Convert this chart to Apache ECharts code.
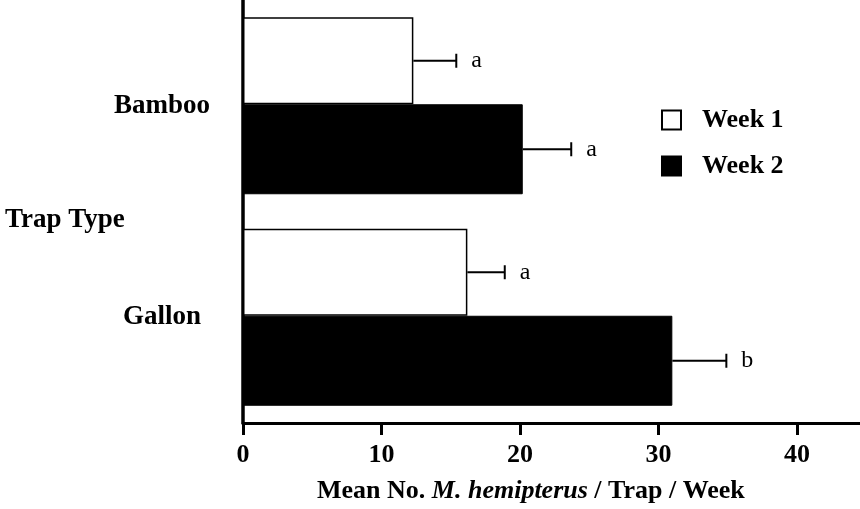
<!DOCTYPE html>
<html>
<head>
<meta charset="utf-8">
<script src="https://cdn.jsdelivr.net/npm/echarts@6/dist/echarts.min.js"></script>
<style>
html,body{margin:0;padding:0;background:#fff;}
#chart{width:860px;height:509px;}
</style>
</head>
<body>
<div id="chart"></div>
<script>
// ---- data ----
const categories = ['Bamboo', 'Gallon'];
const seriesNames = ['Week 1', 'Week 2'];
const week1 = [12.3, 16.2];
const week2 = [20.2, 31.0];
const week1SE = [3.1, 2.7];
const week2SE = [3.5, 3.9];
const week1Sig = ['a', 'a'];
const week2Sig = ['a', 'b'];
const xMin = 0, xMax = 44.55, xInterval = 10;
const yTitle = 'Trap Type';
const xTitleParts = ['Mean No. ', 'M. hemipterus', ' / Trap / Week'];

// ---- style ----
const SERIF = '"Liberation Serif", "Times New Roman", serif';
const W1 = 87, W2 = 90;
const OFF1 = -(W1 + W2) / 2 + W1 / 2;      // centre offset of week 1 bar
const OFF2 = -(W1 + W2) / 2 + W1 + W2 / 2; // centre offset of week 2 bar

const chart = echarts.init(document.getElementById('chart'));

function errSeries(name, values, se, sig, off) {
  return {
    type: 'custom',
    name: name,
    z: 5,
    encode: { x: 0, y: 1 },
    data: categories.map((c, i) => [values[i], i, se[i]]),
    renderItem: function (params, api) {
      const v = api.value(0), ci = api.value(1), e = api.value(2);
      const p0 = api.coord([v, ci]);
      const p1 = api.coord([v + e, ci]);
      const y = p0[1] + off;
      const capH = 7;
      return {
        type: 'group',
        children: [
          { type: 'line', shape: { x1: p0[0], y1: y, x2: p1[0], y2: y }, style: { stroke: '#000', lineWidth: 2 } },
          { type: 'line', shape: { x1: p1[0], y1: y - capH, x2: p1[0], y2: y + capH }, style: { stroke: '#000', lineWidth: 2 } },
          { type: 'text', x: p1[0] + 15, y: y, style: { text: sig[params.dataIndex], fill: '#000', font: '24px ' + SERIF, textAlign: 'left', textVerticalAlign: 'middle' } }
        ]
      };
    }
  };
}

const option = {
  backgroundColor: '#fff',
  animation: false,
  grid: { left: 243, right: 0, top: -3, bottom: 86, containLabel: false },
  legend: {
    data: seriesNames,
    orient: 'vertical',
    left: 661,
    top: 107,
    padding: 0,
    icon: 'rect',
    itemWidth: 19,
    itemHeight: 19,
    itemGap: 20,
    textStyle: { fontFamily: SERIF, fontWeight: 'bold', fontSize: 26, color: '#000', padding: [0, 0, 0, 16] },
    selectedMode: false
  },
  xAxis: {
    type: 'value',
    min: xMin, max: xMax, interval: xInterval,
    splitLine: { show: false },
    axisLine: { show: true, lineStyle: { color: '#000', width: 3 } },
    axisTick: { show: true, length: 12, lineStyle: { color: '#000', width: 3 } },
    axisLabel: { showMaxLabel: false, color: '#000', fontFamily: SERIF, fontWeight: 'bold', fontSize: 26, margin: 19 }
  },
  yAxis: {
    type: 'category',
    data: categories,
    inverse: true,
    axisLine: { show: true, lineStyle: { color: '#000', width: 3.5 } },
    axisTick: { show: false },
    axisLabel: { color: '#000', fontFamily: SERIF, fontWeight: 'bold', fontSize: 27, align: 'center', margin: 81 }
  },
  graphic: [
    { type: 'text', left: 5, top: 207, style: { text: yTitle, fill: '#000', font: 'bold 27px ' + SERIF } },
    {
      type: 'text', left: 317, top: 478,
      style: {
        text: '{n|' + xTitleParts[0] + '}{i|' + xTitleParts[1] + '}{n|' + xTitleParts[2] + '}',
        rich: {
          n: { fontFamily: SERIF, fontWeight: 'bold', fontSize: 26, fill: '#000' },
          i: { fontFamily: SERIF, fontWeight: 'bold', fontStyle: 'italic', fontSize: 26, fill: '#000' }
        }
      }
    }
  ],
  series: [
    {
      name: seriesNames[0], type: 'bar', data: week1, barWidth: W1, barGap: '0%',
      itemStyle: { color: '#fff', borderColor: '#000', borderWidth: 1.5 }
    },
    {
      name: seriesNames[1], type: 'bar', data: week2, barWidth: W2, barGap: '0%',
      itemStyle: { color: '#000', borderColor: '#000', borderWidth: 1 }
    },
    errSeries('err1', week1, week1SE, week1Sig, OFF1),
    errSeries('err2', week2, week2SE, week2Sig, OFF2)
  ]
};
chart.setOption(option);
</script>
</body>
</html>
